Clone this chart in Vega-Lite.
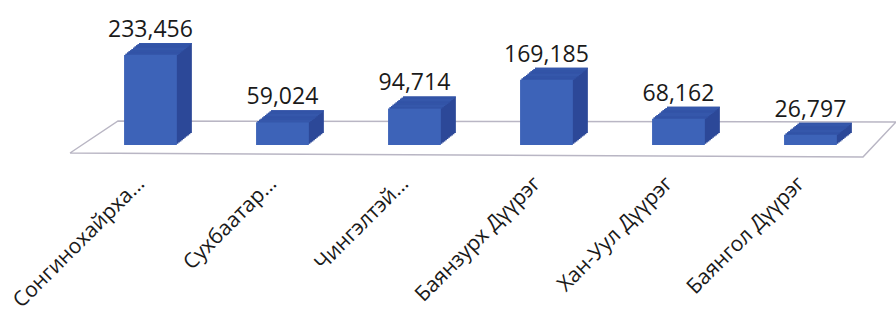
{
  "$schema": "https://vega.github.io/schema/vega-lite/v6.json",
  "width": 836,
  "height": 145,
  "autosize": {"type": "none"},
  "padding": {"left": 60, "top": 0, "right": 0, "bottom": 174},
  "background": "white",
  "config": {"view": {"stroke": null}, "font": "Open Sans"},
  "resolve": {"scale": {"x": "independent"}},
  "layer": [
    {
      "data": {
        "values": [
          {"fx": 0.012, "fy": -20745, "ord": 1},
          {"fx": 0.9605, "fy": -31117, "ord": 2},
          {"fx": 1.0, "fy": 59641, "ord": 3},
          {"fx": 0.0694, "fy": 62234, "ord": 4},
          {"fx": 0.012, "fy": -20745, "ord": 5}
        ]
      },
      "mark": {"type": "line", "color": "#b9b6c4", "strokeWidth": 1.5, "clip": false},
      "encoding": {
        "x": {"field": "fx", "type": "quantitative", "scale": {"domain": [0, 1], "nice": false, "zero": false}, "axis": null},
        "y": {"field": "fy", "type": "quantitative", "scale": {"domain": [0, 376000], "nice": false}, "axis": null},
        "order": {"field": "ord"}
      }
    },
    {
      "data": {
        "values": [
          {"district": "Сонгинохайрха...", "value": 233456},
          {"district": "Сухбаатар...", "value": 59024},
          {"district": "Чингэлтэй...", "value": 94714},
          {"district": "Баянзурх Дүүрэг", "value": 169185},
          {"district": "Хан-Уул Дүүрэг", "value": 68162},
          {"district": "Баянгол Дүүрэг", "value": 26797}
        ]
      },
      "encoding": {
        "x": {
          "field": "district",
          "type": "nominal",
          "sort": null,
          "scale": {"paddingInner": 0.6, "paddingOuter": 0.4667, "align": 0.52},
          "axis": {
            "title": null,
            "labelAngle": -45,
            "labelAlign": "right",
            "labelBaseline": "middle",
            "labelFontSize": 21,
            "labelColor": "#1a1a1a",
            "labelPadding": 35,
            "labelOffset": -9,
            "labelLimit": 300,
            "ticks": false,
            "domain": false
          }
        },
        "y": {
          "field": "value",
          "type": "quantitative",
          "scale": {"domain": [0, 376000], "nice": false},
          "axis": null
        }
      },
      "layer": [
        {"mark": {"type": "bar", "color": "#2c4898", "xOffset": 1.5, "yOffset": -1.2}},
        {"mark": {"type": "bar", "color": "#2c4898", "xOffset": 3, "yOffset": -2.4}},
        {"mark": {"type": "bar", "color": "#2c4898", "xOffset": 4.5, "yOffset": -3.6}},
        {"mark": {"type": "bar", "color": "#2c4898", "xOffset": 6, "yOffset": -4.8}},
        {"mark": {"type": "bar", "color": "#2c4898", "xOffset": 7.5, "yOffset": -6}},
        {"mark": {"type": "bar", "color": "#2c4898", "xOffset": 9, "yOffset": -7.2}},
        {"mark": {"type": "bar", "color": "#2c4898", "xOffset": 10.5, "yOffset": -8.4}},
        {"mark": {"type": "bar", "color": "#2c4898", "xOffset": 12, "yOffset": -9.6}},
        {"mark": {"type": "bar", "color": "#2c4898", "xOffset": 13.5, "yOffset": -10.8}},
        {"mark": {"type": "bar", "color": "#2c4898", "xOffset": 15, "yOffset": -12}},
        {"mark": {"type": "bar", "color": "#3557ab", "xOffset": 1.5, "yOffset": 0, "y2Offset": -1.2}, "encoding": {"y2": {"field": "value"}}},
        {"mark": {"type": "bar", "color": "#3557ab", "xOffset": 3, "yOffset": -1.2, "y2Offset": -2.4}, "encoding": {"y2": {"field": "value"}}},
        {"mark": {"type": "bar", "color": "#3557ab", "xOffset": 4.5, "yOffset": -2.4, "y2Offset": -3.6}, "encoding": {"y2": {"field": "value"}}},
        {"mark": {"type": "bar", "color": "#3557ab", "xOffset": 6, "yOffset": -3.6, "y2Offset": -4.8}, "encoding": {"y2": {"field": "value"}}},
        {"mark": {"type": "bar", "color": "#3557ab", "xOffset": 7.5, "yOffset": -4.8, "y2Offset": -6}, "encoding": {"y2": {"field": "value"}}},
        {"mark": {"type": "bar", "color": "#3557ab", "xOffset": 9, "yOffset": -6, "y2Offset": -7.2}, "encoding": {"y2": {"field": "value"}}},
        {"mark": {"type": "bar", "color": "#3557ab", "xOffset": 10.5, "yOffset": -7.2, "y2Offset": -8.4}, "encoding": {"y2": {"field": "value"}}},
        {"mark": {"type": "bar", "color": "#3557ab", "xOffset": 12, "yOffset": -8.4, "y2Offset": -9.6}, "encoding": {"y2": {"field": "value"}}},
        {"mark": {"type": "bar", "color": "#3557ab", "xOffset": 13.5, "yOffset": -9.6, "y2Offset": -10.8}, "encoding": {"y2": {"field": "value"}}},
        {"mark": {"type": "bar", "color": "#3557ab", "xOffset": 15, "yOffset": -10.8, "y2Offset": -12}, "encoding": {"y2": {"field": "value"}}},
        {"mark": {"type": "bar", "color": "#3d63b8"}},
        {
          "mark": {"type": "text", "fontSize": 23, "dy": -18, "baseline": "alphabetic", "color": "#1a1a1a"},
          "encoding": {"text": {"field": "value", "type": "quantitative", "format": ",d"}}
        }
      ]
    }
  ]
}
